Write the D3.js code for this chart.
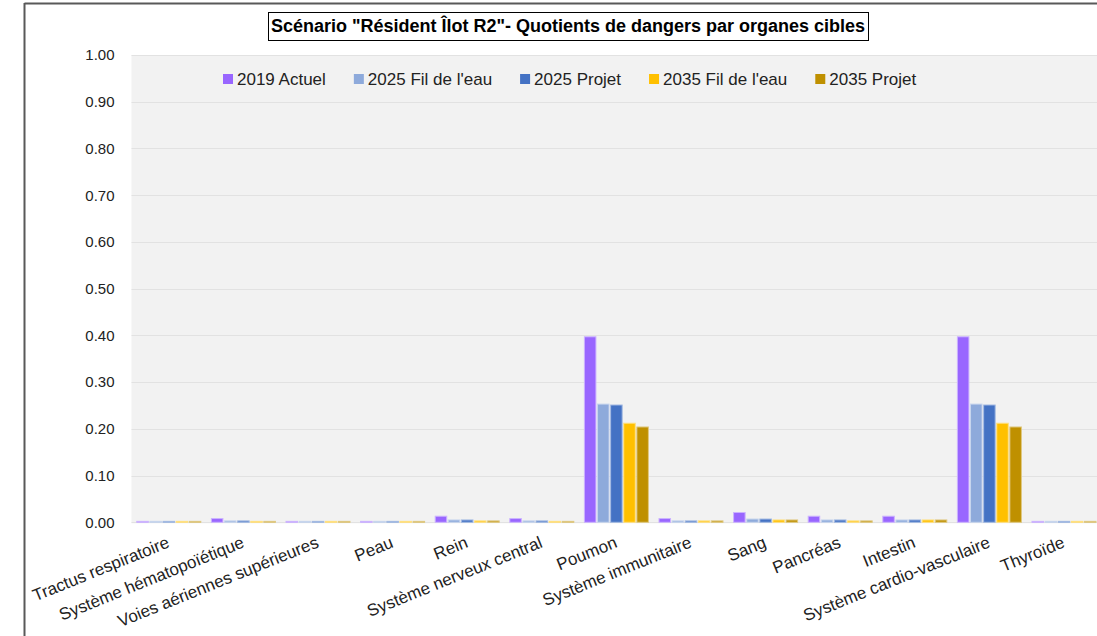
<!DOCTYPE html>
<html>
<head>
<meta charset="utf-8">
<script src="https://d3js.org/d3.v7.min.js"></script>
<style>
  body { margin: 0; background: #fff; }
  text { font-family: "Liberation Sans", Arial, sans-serif; fill: #222; }
  .title { font-weight: bold; font-size: 18px; fill: #000; }
  .grid line { stroke: #e2e2e2; }
</style>
</head>
<body>
<script>
// categories (organes cibles)
var organes = ["Tractus respiratoire", "Système hématopoïétique", "Voies aériennes supérieures",
  "Peau", "Rein", "Système nerveux central", "Poumon", "Système immunitaire", "Sang",
  "Pancréas", "Intestin", "Système cardio-vasculaire", "Thyroïde"];

var series = ["2019 Actuel", "2025 Fil de l'eau", "2025 Projet", "2035 Fil de l'eau", "2035 Projet"];
var colors = ["#9966ff", "#8eaadb", "#4472c4", "#ffc000", "#bf9000"];

// quotients de dangers, one array per scenario
var actuel2019   = [0.002, 0.008, 0.002, 0.002, 0.013, 0.008, 0.397, 0.008, 0.021, 0.013, 0.013, 0.397, 0.002];
var filEau2025   = [0.002, 0.003, 0.002, 0.002, 0.005, 0.003, 0.253, 0.003, 0.007, 0.005, 0.005, 0.253, 0.002];
var projet2025   = [0.002, 0.003, 0.002, 0.002, 0.005, 0.003, 0.251, 0.003, 0.007, 0.005, 0.005, 0.251, 0.002];
var filEau2035   = [0.002, 0.002, 0.002, 0.002, 0.003, 0.002, 0.212, 0.003, 0.005, 0.003, 0.005, 0.212, 0.002];
var projet2035   = [0.002, 0.002, 0.002, 0.002, 0.003, 0.002, 0.204, 0.003, 0.005, 0.003, 0.005, 0.204, 0.002];

var yTicks = [0, 0.1, 0.2, 0.3, 0.4, 0.5, 0.6, 0.7, 0.8, 0.9, 1.0];

var allValues = [actuel2019, filEau2025, projet2025, filEau2035, projet2035];

var W = 1097, H = 636;
var plot = {left: 131.5, top: 55, bottom: 522.3, bandW: 74.6};

var svg = d3.select("body").append("svg")
    .attr("width", W).attr("height", H);

// outer chart border (only top + left visible)
svg.append("line").attr("x1", 24.5).attr("x2", W).attr("y1", 3.5).attr("y2", 3.5)
    .attr("stroke", "#595959").attr("stroke-width", 2);
svg.append("line").attr("x1", 24.5).attr("x2", 24.5).attr("y1", 3).attr("y2", H)
    .attr("stroke", "#595959").attr("stroke-width", 2);

var x0 = d3.scaleBand().domain(organes)
    .range([plot.left, plot.left + plot.bandW * organes.length])
    .paddingInner(0.142).paddingOuter(0.071);
var x1 = d3.scaleBand().domain(series).range([0, x0.bandwidth()]).paddingInner(0.12);
var y = d3.scaleLinear().domain([0, 1]).range([plot.bottom, plot.top]);

// plot area background
svg.append("rect")
    .attr("x", plot.left).attr("y", plot.top)
    .attr("width", W - plot.left).attr("height", plot.bottom - plot.top + 1)
    .attr("fill", "#f2f2f2");

// gridlines
svg.append("g").attr("class", "grid")
    .selectAll("line").data(yTicks).enter().append("line")
    .attr("x1", plot.left).attr("x2", W)
    .attr("y1", function(d) { return Math.round(y(d)) + 0.5; })
    .attr("y2", function(d) { return Math.round(y(d)) + 0.5; });

// y axis labels
var yAxis = svg.append("g")
    .attr("transform", "translate(" + (plot.left - 14) + ",0)")
    .call(d3.axisLeft(y).tickValues(yTicks).tickFormat(d3.format(".2f")).tickSize(0));
yAxis.select(".domain").remove();
yAxis.selectAll("text").style("font-size", "15px")
    .style("font-family", "'Liberation Sans', Arial, sans-serif").attr("fill", "#262626");

// bars
var groups = svg.append("g").selectAll("g").data(organes).enter().append("g")
    .attr("transform", function(d) { return "translate(" + x0(d) + ",0)"; });

groups.selectAll("rect")
    .data(function(d, i) { return series.map(function(s, j) { return {s: s, j: j, v: allValues[j][i]}; }); })
    .enter().append("rect")
    .attr("x", function(d) { return x1(d.s); })
    .attr("width", x1.bandwidth())
    .attr("y", function(d) { return y(d.v); })
    .attr("height", function(d) { return y(0) - y(d.v); })
    .attr("fill", function(d) { return colors[d.j]; })
    .attr("stroke", function(d) { return d3.interpolateRgb(colors[d.j], "#ffffff")(0.5); })
    .attr("stroke-width", 1);

// x labels, rotated
svg.append("g").selectAll("text").data(organes).enter().append("text")
    .attr("transform", function(d) {
        return "translate(" + (x0(d) + x0.bandwidth() / 2 - 3) + "," + 535 + ") rotate(-22)";
    })
    .attr("text-anchor", "end")
    .attr("dy", "0.75em")
    .style("font-size", "17px")
    .attr("fill", "#1a1a1a")
    .text(function(d) { return d; });

// legend
var legend = svg.append("g").attr("transform", "translate(223,79)");
var lx = 0;
series.forEach(function(s, i) {
    var g = legend.append("g").attr("transform", "translate(" + lx + ",0)");
    g.append("rect").attr("x", 0).attr("y", -5).attr("width", 10).attr("height", 10)
        .attr("fill", colors[i]);
    var t = g.append("text").attr("x", 14).attr("dy", "0.36em")
        .style("font-size", "17px").attr("fill", "#1a1a1a").text(s);
    lx += 14 + t.node().getComputedTextLength() + 28;
});

// title with box
var title = svg.append("text").attr("class", "title")
    .attr("x", 568).attr("y", 26).attr("text-anchor", "middle").attr("dy", "0.36em")
    .attr("textLength", 594).attr("lengthAdjust", "spacingAndGlyphs")
    .text("Scénario \"Résident Îlot R2\"- Quotients de dangers par organes cibles");
svg.insert("rect", ".title")
    .attr("x", 268.5).attr("y", 12.5).attr("width", 600).attr("height", 28)
    .attr("fill", "#fff").attr("stroke", "#000").attr("stroke-width", 1);
</script>
</body>
</html>
